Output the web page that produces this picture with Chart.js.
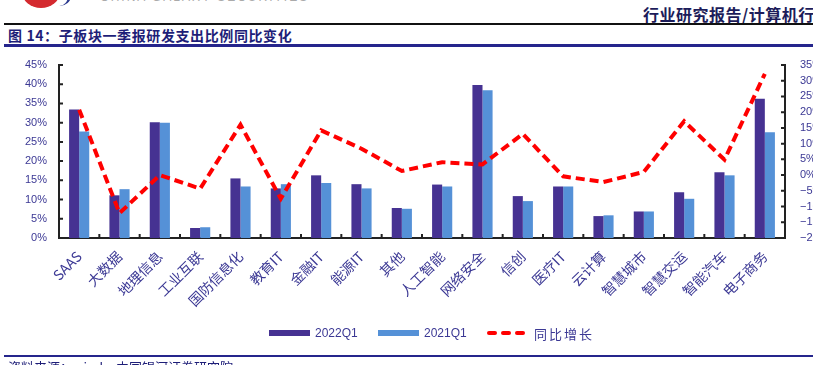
<!DOCTYPE html>
<html><head><meta charset="utf-8">
<script src="https://cdn.jsdelivr.net/npm/chart.js@4/dist/chart.umd.min.js"></script>
<style>
html,body{margin:0;padding:0;width:813px;height:365px;overflow:hidden;background:#fff;}
body{position:relative;font-family:"Liberation Sans",Arial,sans-serif;}
#wrap{position:absolute;left:0;top:0;width:840px;height:365px;}
.abs{position:absolute;white-space:nowrap;}
.cjk{font-family:"Noto Sans CJK SC","Noto Sans",sans-serif;}
</style></head>
<body>
<div class="abs" style="left:22px;top:-24px;width:38px;height:32px;border-radius:50%;background:#d42a2f;"></div>
<div class="abs" style="left:48px;top:-14px;width:20px;height:20px;border-radius:50%;border-right:3px solid #2b3a8f;"></div>
<div class="abs" style="left:100px;top:-10px;font-size:12px;color:#aaa;letter-spacing:2px;">CHINA GALAXY SECURITIES</div>
<div class="abs cjk" style="left:643px;top:2px;font-size:16px;font-weight:bold;color:#1c1c5a;letter-spacing:0.5px;">行业研究报告/计算机行业</div>
<div class="abs" style="left:4px;top:23px;width:809px;height:2px;background:#111;"></div>
<div class="abs cjk" style="left:8px;top:25px;font-size:14px;font-weight:bold;color:#1e1e78;letter-spacing:0.6px;">图 14：子板块一季报研发支出比例同比变化</div>
<div class="abs" style="left:4px;top:44px;width:809px;height:3px;background:#25258c;"></div>

<div id="wrap"><canvas id="c" width="840" height="365"></canvas></div>

<div class="abs" style="left:269px;top:330px;width:41px;height:6px;background:#463292;"></div>
<div class="abs" style="left:315px;top:326px;font-size:12px;color:#3b3894;">2022Q1</div>
<div class="abs" style="left:378px;top:330px;width:41px;height:6px;background:#5591d7;"></div>
<div class="abs" style="left:424px;top:326px;font-size:12px;color:#3b3894;">2021Q1</div>
<div class="abs" style="left:487px;top:331px;width:10px;height:4px;border-radius:2px;background:#ff0000;"></div>
<div class="abs" style="left:501px;top:331px;width:10px;height:4px;border-radius:2px;background:#ff0000;"></div>
<div class="abs" style="left:515px;top:331px;width:10px;height:4px;border-radius:2px;background:#ff0000;"></div>
<div class="abs cjk" style="left:534px;top:324px;font-size:13px;color:#3b3894;letter-spacing:2px;">同比增长</div>

<div class="abs" style="left:4px;top:355px;width:809px;height:2px;background:#25258c;"></div>
<div class="abs cjk" style="left:8px;top:357px;font-size:13px;color:#1e1e78;">资料来源：wind，中国银河证券研究院</div>

<script>
const categories = ['SAAS','大数据','地理信息','工业互联','国防信息化','教育IT','金融IT','能源IT','其他','人工智能','网络安全','信创','医疗IT','云计算','智慧城市','智慧交运','智能汽车','电子商务'];
const rd2022Q1 = [33.4, 11.1, 30.1, 2.6, 15.5, 12.9, 16.3, 14.0, 7.8, 13.9, 39.8, 10.9, 13.4, 5.7, 6.9, 11.9, 17.1, 36.2];
const rd2021Q1 = [27.7, 12.7, 30.0, 2.8, 13.4, 14.0, 14.3, 12.9, 7.6, 13.4, 38.4, 9.6, 13.4, 5.9, 6.9, 10.2, 16.3, 27.5];
const yoyGrowth = [20.8, -12.1, 0.0, -4.3, 16.0, -7.5, 14.2, 8.4, 1.3, 4.1, 3.4, 13.1, -0.4, -2.2, 1.0, 17.1, 4.9, 32.2];
const leftAxis = {min: 0, max: 45, step: 5};
const rightAxis = {min: -20, max: 35, step: 5};

const labelColor = '#3b3894';
const axisColor = '#222';

const inwardTicks = {
  id: 'inwardTicks',
  afterDraw(chart) {
    const ctx = chart.ctx, a = chart.chartArea;
    const {x, y, y1} = chart.scales;
    ctx.save();
    ctx.strokeStyle = axisColor;
    ctx.lineWidth = 2;
    ctx.beginPath();
    y.ticks.forEach(t => { const p = y.getPixelForValue(t.value); ctx.moveTo(a.left, p); ctx.lineTo(a.left + 4, p); });
    y1.ticks.forEach(t => { const p = y1.getPixelForValue(t.value); ctx.moveTo(a.right, p); ctx.lineTo(a.right - 4, p); });
    for (let i = 0; i < categories.length - 1; i++) {
      const p = (x.getPixelForValue(i) + x.getPixelForValue(i + 1)) / 2;
      ctx.moveTo(p, a.bottom); ctx.lineTo(p, a.bottom - 4);
    }
    ctx.stroke();
    ctx.restore();
  }
};

const fmt = v => (v < 0 ? '\u2212' + Math.abs(v) : v) + '%';

new Chart(document.getElementById('c'), {
  data: {
    labels: categories,
    datasets: [
      {type: 'line', label: '同比增长', data: yoyGrowth, yAxisID: 'y1', borderColor: '#ff0000', borderWidth: 4, borderDash: [9, 5], pointRadius: 0, tension: 0, fill: false, order: 0},
      {type: 'bar', label: '2022Q1', data: rd2022Q1, yAxisID: 'y', backgroundColor: '#463292', categoryPercentage: 0.5, barPercentage: 1.0, order: 1},
      {type: 'bar', label: '2021Q1', data: rd2021Q1, yAxisID: 'y', backgroundColor: '#5591d7', categoryPercentage: 0.5, barPercentage: 1.0, order: 1}
    ]
  },
  options: {
    responsive: false,
    animation: false,
    devicePixelRatio: 1,
    layout: {padding: {top: 65, left: 0, right: 0, bottom: 0}},
    plugins: {legend: {display: false}, tooltip: {enabled: false}},
    scales: {
      x: {
        grid: {display: false, drawTicks: false},
        border: {display: true, color: axisColor, width: 2},
        ticks: {autoSkip: false, minRotation: 45, maxRotation: 45, padding: 10, color: labelColor, font: {size: 14, family: '"Noto Sans CJK SC", "Liberation Sans", sans-serif'}},
        afterFit(s) { s.height = 127; }
      },
      y: {
        position: 'left', min: leftAxis.min, max: leftAxis.max,
        grid: {display: false, drawTicks: false},
        border: {display: true, color: axisColor, width: 2},
        ticks: {autoSkip: false, stepSize: leftAxis.step, callback: fmt, padding: 12, color: labelColor, font: {size: 11, family: '"Liberation Sans", Arial, sans-serif'}},
        afterFit(s) { s.width = 59; }
      },
      y1: {
        position: 'right', min: rightAxis.min, max: rightAxis.max,
        grid: {display: false, drawTicks: false},
        border: {display: true, color: axisColor, width: 2},
        ticks: {autoSkip: false, stepSize: rightAxis.step, callback: fmt, padding: 15, color: labelColor, font: {size: 11, family: '"Liberation Sans", Arial, sans-serif'}},
        afterFit(s) { s.width = 55; }
      }
    }
  },
  plugins: [inwardTicks]
});
</script>
</body></html>
